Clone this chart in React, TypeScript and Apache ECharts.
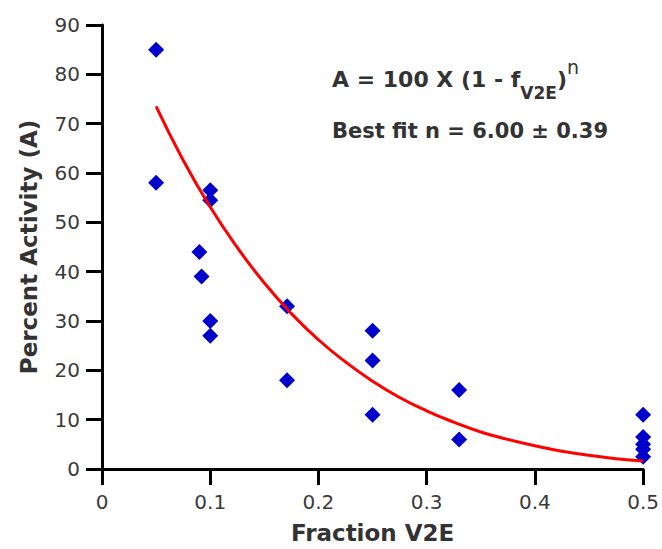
import React, { useEffect, useRef } from "react";
import * as echarts from "echarts";

// Measured data (fraction V2E, percent activity)
const pointX = [0.05, 0.05, 0.1, 0.1, 0.09, 0.092, 0.1, 0.1, 0.171, 0.171, 0.25, 0.25, 0.25, 0.33, 0.33, 0.5, 0.5, 0.5, 0.5, 0.5];
const pointY = [85, 58, 56.5, 54.5, 44, 39, 30, 27, 33, 18, 28, 22, 11, 16, 6, 11, 6.5, 5, 4, 2.5];

// Fit curve values (A = 100 (1 - f)^n, n = 6.00)
const fitX = [0.05, 0.075, 0.1, 0.125, 0.15, 0.175, 0.2, 0.225, 0.25, 0.275, 0.3, 0.325, 0.35, 0.375, 0.4, 0.425, 0.45, 0.475, 0.5];
const fitY = [73.5, 62.6, 53.1, 44.9, 37.7, 31.5, 26.2, 21.7, 17.8, 14.5, 11.8, 9.5, 7.5, 6.0, 4.7, 3.6, 2.8, 2.1, 1.6];

const xTicks = ["0", "0.1", "0.2", "0.3", "0.4", "0.5"];
const yTicks = ["0", "10", "20", "30", "40", "50", "60", "70", "80", "90"];

const FONT = "DejaVu Sans";

export default function App() {
  const ref = useRef<HTMLDivElement>(null);
  useEffect(() => {
    if (!ref.current) return;
    const chart = echarts.init(ref.current, null, { renderer: "svg" });
    const axisLineStyle = { color: "#000", width: 3 };
    chart.setOption({
      animation: false,
      backgroundColor: "#fff",
      grid: { left: 102, right: 16, top: 25, bottom: 77, containLabel: false },
      xAxis: {
        type: "value",
        min: 0,
        max: 0.5,
        interval: 0.1,
        name: "Fraction V2E",
        nameLocation: "middle",
        nameGap: 52,
        nameTextStyle: { fontFamily: FONT, fontWeight: "bold", fontSize: 23, color: "#333" },
        axisLine: { show: true, onZero: false, lineStyle: axisLineStyle },
        axisTick: { show: true, inside: false, length: 16, lineStyle: axisLineStyle },
        splitLine: { show: false },
        axisLabel: {
          margin: 23,
          fontFamily: FONT,
          fontSize: 20,
          color: "#3a3a3a",
          formatter: (v: number) => xTicks[Math.round(v * 10)] ?? "",
        },
      },
      yAxis: {
        type: "value",
        min: 0,
        max: 90,
        interval: 10,
        name: "Percent Activity (A)",
        nameLocation: "middle",
        nameGap: 62,
        nameRotate: 90,
        nameTextStyle: { fontFamily: FONT, fontWeight: "bold", fontSize: 23, color: "#333" },
        axisLine: { show: true, onZero: false, lineStyle: axisLineStyle },
        axisTick: { show: true, inside: false, length: 16, lineStyle: axisLineStyle },
        splitLine: { show: false },
        axisLabel: {
          margin: 22,
          fontFamily: FONT,
          fontSize: 20,
          color: "#3a3a3a",
          formatter: (v: number) => yTicks[Math.round(v / 10)] ?? "",
        },
      },
      series: [
        {
          type: "scatter",
          symbol: "diamond",
          symbolSize: 16,
          itemStyle: { color: "#0000cc", opacity: 1 },
          data: pointX.map((x, i) => [x, pointY[i]]),
          z: 2,
        },
        {
          type: "line",
          smooth: true,
          showSymbol: false,
          symbol: "none",
          lineStyle: { color: "#ff0000", width: 3 },
          data: fitX.map((x, i) => [x, fitY[i]]),
          z: 3,
        },
      ],
      graphic: [
        {
          type: "text",
          left: 332,
          top: 57,
          style: {
            text: "{a|A = 100 X (1 - f}{s|V2E}{a|)}{p|n}",
            rich: {
              a: { fontFamily: FONT, fontWeight: "bold", fontSize: 22, lineHeight: 44, fill: "#333", verticalAlign: "middle" },
              s: { fontFamily: FONT, fontWeight: "bold", fontSize: 17, lineHeight: 18, fill: "#333", verticalAlign: "bottom" },
              p: { fontFamily: FONT, fontSize: 19, lineHeight: 22, fill: "#333", verticalAlign: "top" },
            },
          },
        },
        {
          type: "text",
          left: 332,
          top: 120,
          style: {
            text: "Best fit n = 6.00 \u00b1 0.39",
            fontFamily: FONT,
            fontWeight: "bold",
            fontSize: 21,
            fill: "#333",
          },
        },
      ],
    });
    return () => chart.dispose();
  }, []);
  return (
    <div
      ref={ref}
      style={{ position: "fixed", left: 0, top: 0, width: 662, height: 549, background: "#fff" }}
    />
  );
}
